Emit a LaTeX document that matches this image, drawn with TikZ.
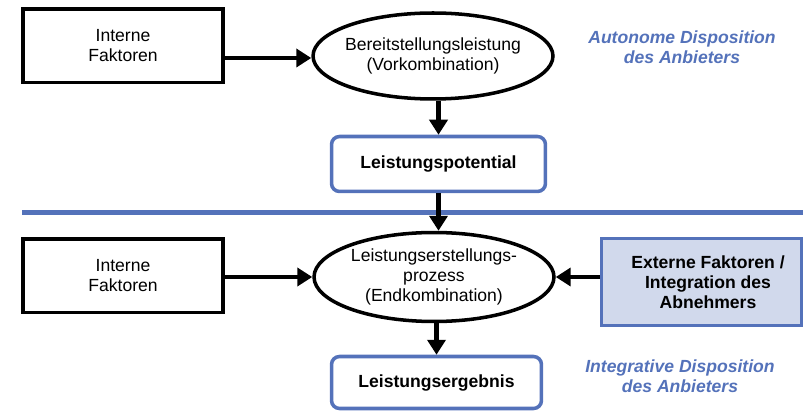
\documentclass[tikz,border=0pt]{standalone}
\usepackage{fontspec}
\setmainfont{Liberation Sans}
\usetikzlibrary{arrows.meta,shapes.geometric}
\definecolor{dispblue}{RGB}{84,114,186}
\definecolor{extfill}{RGB}{209,217,236}

\begin{document}
\begin{tikzpicture}[x=0.02cm, y=-0.02cm,
        every node/.style={font=\fontsize{10}{11.4}\selectfont},
        faktor/.style={draw=black, line width=2pt, rectangle, minimum width=4cm, minimum height=1.47cm, align=center},
        prozess/.style={draw=black, line width=2pt, ellipse, minimum width=4.8cm, minimum height=1.72cm},
        ergebnis/.style={draw=dispblue, line width=2pt, rounded corners=0.16cm, minimum width=4.28cm, minimum height=1.1cm, font=\fontsize{10}{11.4}\selectfont\bfseries},
        extern/.style={draw=dispblue, fill=extfill, line width=2pt, minimum width=4cm, minimum height=1.74cm, align=center, font=\fontsize{10}{11.4}\selectfont\bfseries},
        disp/.style={align=center, text=dispblue, font=\fontsize{10}{11.4}\selectfont\bfseries\itshape},
        pfeil/.style={line width=2.8pt, -{Triangle[length=0.3cm, width=0.36cm]}}]
        \useasboundingbox (0,0) rectangle (803,411);
        % obere Ebene
        \node[faktor] (intern1) at (123,46) {Interne\\Faktoren};
        \node[prozess] (vorkomb) at (433,56) {};
        \node[align=center] (vorkombtext) at (vorkomb) {Bereitstellungsleistung\\(Vorkombination)};
        \node[ergebnis] (potential) at (438.5,164) {Leistungspotential};
        \node[disp] (autonom) at (682,47) {Autonome Disposition\\des Anbieters};
        % Trennlinie
        \draw[draw=dispblue, line width=2.8pt] (22,212.5) -- (803,212.5);
        % untere Ebene
        \node[faktor] (intern2) at (123,276) {Interne\\Faktoren};
        \node[prozess, minimum height=1.78cm] (endkomb) at (434,277) {};
        \node[align=center] (endkombtext) at (endkomb) {Leistungserstellungs-\\prozess\\(Endkombination)};
        \node[extern] (extern) at (701.5,282) {};
        \node[align=center, font=\fontsize{10}{11.4}\selectfont\bfseries] (externtext) at ([xshift=0.13cm]extern) {Externe Faktoren /\\Integration des\\Abnehmers};
        \node[ergebnis, minimum width=4.2cm, minimum height=1.04cm] (leistergebnis) at (436.5,382.5) {Leistungsergebnis};
        \node[disp] (integrativ) at (680,376) {Integrative Disposition\\des Anbieters};
        % Pfeile
        \draw[pfeil] (intern1.east |- 0,58) -- (vorkomb.west |- 0,58);
        \draw[pfeil] (potential.north |- vorkomb.south) -- (potential.north);
        \draw[pfeil] (potential.south) -- (potential.south |- endkomb.north);
        \draw[pfeil] (intern2.east |- endkomb.west) -- (endkomb.west);
        \draw[pfeil] (extern.west |- endkomb.east) -- (endkomb.east);
        \draw[pfeil] (leistergebnis.north |- endkomb.south) -- (leistergebnis.north);
\end{tikzpicture}
\end{document}
